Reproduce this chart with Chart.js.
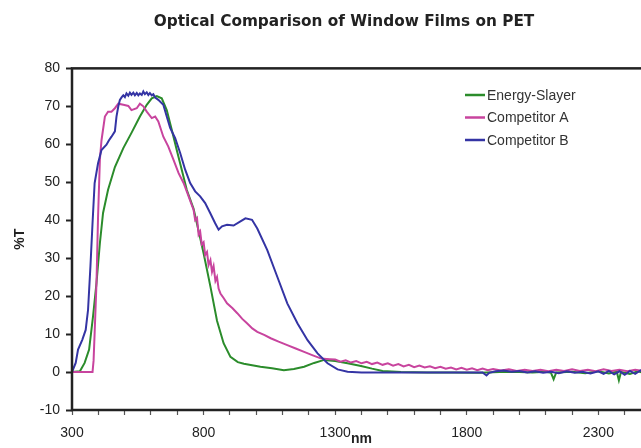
<!DOCTYPE html>
<html>
<head>
<meta charset="utf-8">
<script src="https://cdn.jsdelivr.net/npm/chart.js@4"></script>
<style>
  html, body { margin: 0; padding: 0; background: #fff; overflow: hidden; }
  #wrap { position: relative; width: 688px; height: 448px; }
</style>
</head>
<body>
<div id="wrap"><canvas id="chart"></canvas></div>
<script>
// wavelength (nm) and %T, one pair of arrays per film
const esNm = [300, 330, 348, 365, 380, 393, 406, 418, 437, 463, 495, 526, 558, 584, 603, 622, 641, 660, 679, 698,
  717, 736, 762, 780, 800, 826, 851, 876, 902, 930, 953, 1016, 1060, 1105, 1143, 1182, 1220, 1258, 1300, 1347,
  1398, 1440, 1480, 1550, 1650, 1750, 1850, 1950, 2000, 2050, 2100, 2120, 2130, 2140, 2200, 2250, 2300, 2340, 2370, 2378,
  2386, 2420, 2450, 2480, 2500];
const esT = [0, 0.2, 2.4, 5.9, 14.7, 23.4, 34, 41.9, 48, 54, 59, 63, 67.3, 70.4, 72.1, 72.7, 72.1, 69, 63.8, 58.5,
  53.3, 48, 43, 37.5, 31.3, 22.5, 13.5, 7.6, 4.0, 2.6, 2.2, 1.4, 1.0, 0.5, 0.8, 1.4, 2.4, 3.2, 2.9, 2.3,
  1.6, 0.9, 0.3, 0, -0.1, -0.1, -0.2, 0.1, 0, -0.1, 0.1, -0.2, -1.9, -0.1, 0.1, -0.3, 0.2, -0.4, 0.1, -2.2,
  0, -0.5, 0.2, -0.4, 0];

const aNm = [300, 378, 382, 386, 393, 399, 406, 412, 425, 437, 450, 463, 476, 495, 514, 526, 546, 558, 571, 584,
  603, 616, 628, 647, 666, 685, 705, 724, 743, 755, 762, 768, 775, 781, 787, 793, 800, 806, 813, 819,
  826, 832, 838, 845, 851, 857, 864, 876, 889, 910, 928, 947, 966, 985, 1004, 1030, 1055, 1085, 1118, 1150,
  1182, 1215, 1245, 1280,
  1300, 1320, 1340, 1360, 1380, 1400, 1420, 1440, 1460, 1480, 1500, 1520, 1540, 1560, 1580, 1600,
  1620, 1640, 1660, 1680, 1700, 1720, 1740, 1760, 1780, 1800, 1820, 1840, 1860, 1880, 1900,
  1930, 1960, 1990, 2020, 2050, 2080, 2110, 2140, 2170, 2200, 2230, 2260, 2290, 2320, 2350, 2380, 2410, 2440, 2470, 2500];
const aT = [0, 0, 3, 10.3, 23.4, 41, 56, 61, 67.3, 68.6, 68.6, 69.5, 70.7, 70.4, 70.1, 69, 69.5, 70.7, 70, 68.6,
  66.9, 67.3, 66, 62, 59.4, 56, 52.4, 49.8, 46.3, 44, 42.7, 40, 40.6, 36.2, 37, 33.6, 34.2, 30.8, 31.6, 28.2,
  29.5, 26.4, 27.9, 24, 25, 22, 20.7, 19.5, 18.1, 16.8, 15.5, 14, 12.8, 11.5, 10.6, 9.8, 8.9, 8.0, 7.1, 6.2,
  5.3, 4.4, 3.6, 3.4,
  3.3, 2.7, 3.1, 2.5, 2.9, 2.3, 2.7, 2.1, 2.5, 1.9, 2.3, 1.7, 2.1, 1.5, 1.9, 1.3,
  1.7, 1.2, 1.5, 1.0, 1.4, 0.9, 1.2, 0.7, 1.1, 0.6, 1.0, 0.5, 0.9, 0.5, 0.8,
  0.4, 0.7, 0.3, 0.6, 0.3, 0.6, 0.2, 0.6, 0.3, 0.7, 0.3, 0.6, 0.2, 0.7, 0.3, 0.6, 0.2, 0.6, 0.3, 0.5];

const bNm = [300, 314, 323, 339, 352, 361, 370, 378, 386, 399, 412, 431, 440, 450, 463, 469, 476, 482, 489, 495,
  501, 507, 514, 520, 526, 533, 539, 546, 552, 558, 565, 571, 577, 584, 590, 596, 603, 609, 616, 628,
  647, 660, 673, 692, 711, 730, 749, 768, 787, 806, 825, 844, 857, 870, 889, 914, 940, 959, 984, 1004,
  1042, 1080, 1118, 1157, 1195, 1233, 1271, 1309, 1347, 1400, 1500, 1600, 1700, 1800, 1860, 1875, 1885, 1910, 1940, 1970,
  2000, 2030, 2060, 2090, 2120, 2150, 2180, 2210, 2240, 2270, 2300, 2320, 2340, 2360, 2380, 2400, 2420, 2440, 2460, 2480,
  2500];
const bT = [0, 2.4, 5.9, 8.5, 11.1, 16.4, 27.8, 39.2, 49.8, 55, 58.5, 59.9, 61, 62, 63.4, 67.3, 70, 71.7, 72.4, 72.9,
  72.4, 73.4, 72.8, 73.6, 73, 73.6, 72.9, 73.5, 72.9, 73.4, 73, 73.9, 73.2, 73.7, 73, 73.5, 72.9, 73.2, 72.3, 71.7,
  70.4, 67.3, 64.3, 61.6, 57.7, 53.3, 49.8, 47.6, 46.3, 44.5, 41.9, 39.2, 37.5, 38.4, 38.8, 38.6, 39.7, 40.5, 40.1, 37.8,
  32.1, 25.1, 18.1, 12.8, 8.4, 4.9, 2.3, 0.7, 0.1, -0.1, -0.1, -0.1, -0.1, -0.1, -0.1, -0.9, -0.2, 0.2, 0.4, 0.1,
  0.3, -0.1, 0.2, -0.2, 0.1, -0.3, 0.2, -0.2, 0.1, -0.4, 0.2, -0.5, 0.3, -0.6, 0.2, -0.7, 0.3, -0.5, 0.4, -0.6,
  0.1];

const seriesNames = ['Energy-Slayer', 'Competitor A', 'Competitor B'];
const xLabels = [300, 800, 1300, 1800, 2300];

const toPts = (xs, ys) => xs.map((x, i) => ({ x: x, y: ys[i] }));
const sans = "'Liberation Sans', Arial, sans-serif";

// border round the plot area
const framePlugin = {
  id: 'frame',
  afterDraw(chart) {
    const a = chart.chartArea, ctx = chart.ctx;
    ctx.save();
    ctx.strokeStyle = '#222';
    ctx.lineWidth = 2.5;
    ctx.strokeRect(a.left, a.top, a.right - a.left, a.bottom - a.top);
    ctx.restore();
  }
};

// legend sitting inside the plot, top right
const legendPlugin = {
  id: 'innerLegend',
  afterDraw(chart) {
    const ctx = chart.ctx;
    ctx.save();
    ctx.font = '14px ' + sans;
    ctx.textBaseline = 'middle';
    chart.data.datasets.forEach((ds, i) => {
      const y = 95 + i * 22.5;
      ctx.strokeStyle = ds.borderColor;
      ctx.lineWidth = 2.5;
      ctx.beginPath();
      ctx.moveTo(465, y);
      ctx.lineTo(485, y);
      ctx.stroke();
      ctx.fillStyle = '#333';
      ctx.fillText(ds.label, 487, y + 1);
    });
    ctx.restore();
  }
};

new Chart(document.getElementById('chart'), {
  type: 'line',
  data: {
    datasets: [{
      label: seriesNames[0],
      data: toPts(esNm, esT),
      borderColor: '#2b8c2b',
      order: 2
    }, {
      label: seriesNames[1],
      data: toPts(aNm, aT),
      borderColor: '#c8449e',
      order: 1
    }, {
      label: seriesNames[2],
      data: toPts(bNm, bT),
      borderColor: '#3434a4',
      order: 0
    }]
  },
  options: {
    responsive: true,
    maintainAspectRatio: false,
    animation: false,
    elements: {
      point: { radius: 0 },
      line: { borderWidth: 2, tension: 0, fill: false }
    },
    layout: { padding: 0 },
    plugins: {
      legend: { display: false },
      tooltip: { enabled: false },
      title: {
        display: true,
        text: 'Optical Comparison of Window Films on PET',
        color: '#222',
        font: { family: "'DejaVu Sans', sans-serif", size: 15.3, weight: 'bold' },
        padding: { top: 13, bottom: 37 }
      }
    },
    scales: {
      x: {
        type: 'linear',
        min: 300,
        max: 2500,
        border: { display: false },
        grid: { drawOnChartArea: false, drawTicks: true, tickLength: 5, tickColor: '#555', tickWidth: 1.2 },
        ticks: {
          stepSize: 100,
          autoSkip: false,
          maxRotation: 0,
          padding: 10,
          color: '#222',
          font: { family: sans, size: 14 },
          callback: v => xLabels.includes(v) ? String(v) : ''
        },
        title: {
          display: true,
          text: 'nm',
          color: '#222',
          font: { family: sans, size: 14, weight: 'bold' },
          padding: { top: 0, bottom: 0 }
        },
        afterFit: s => { s.height = 38; s.paddingRight = 37; }
      },
      y: {
        min: -10,
        max: 80,
        border: { display: false },
        grid: { drawOnChartArea: false, drawTicks: true, tickLength: 6, tickColor: '#222', tickWidth: 2 },
        ticks: {
          stepSize: 10,
          padding: 6,
          color: '#222',
          font: { family: sans, size: 14 }
        },
        title: {
          display: true,
          text: '%T',
          color: '#222',
          font: { family: sans, size: 14, weight: 'bold' },
          padding: { top: 12, bottom: 0 }
        },
        afterFit: s => { s.width = 72; }
      }
    }
  },
  plugins: [framePlugin, legendPlugin]
});
</script>
</body>
</html>
